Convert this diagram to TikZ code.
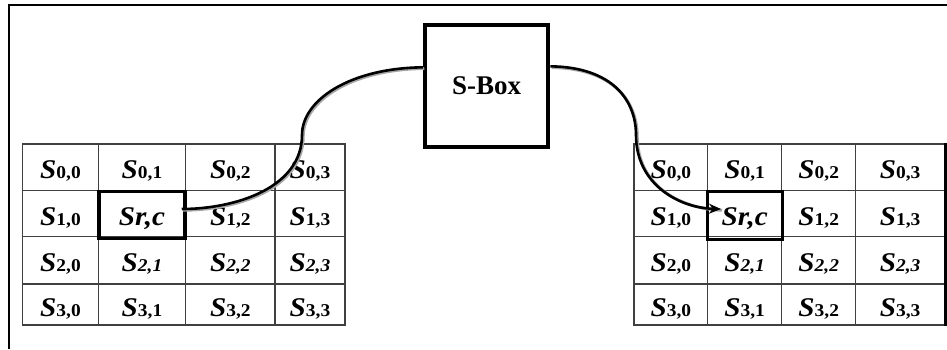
\documentclass[tikz,border=0pt]{standalone}
\usepackage{fontspec}
\setmainfont{Liberation Serif}
\newfontfamily\cellfont[FakeStretch=1.08]{Liberation Serif}
\usetikzlibrary{arrows.meta,calc}

% state-cell labels: a large bold italic S with a smaller index pair
\newcommand{\bigS}[1]{{\cellfont\fontsize{27}{27}\selectfont\bfseries\itshape #1}}
\newcommand{\smallsub}[1]{{\cellfont\fontsize{18}{18}\selectfont\bfseries #1}}
\newcommand{\celltext}[2]{%
  \ifnum#1#2=11 \bigS{Sr,c}%
  \else\ifnum#1#2>20 \ifnum#1=2 \bigS{S}\smallsub{\itshape #1,#2}%
    \else \bigS{S}\smallsub{#1,#2}\fi
  \else \bigS{S}\smallsub{#1,#2}\fi\fi}

\tikzset{
  cell/.style={draw=black!75, line width=1.3pt, inner sep=0pt,
               text height=23pt, text depth=0pt},
  hilite/.style={draw=black, line width=3.5pt, inner sep=0pt},
  sboxstyle/.style={draw=black, line width=4pt, inner sep=0pt,
                    font=\fontsize{27}{27}\selectfont\bfseries},
  flow/.style={line width=2.6pt, black},
  flowshade/.style={line width=3pt, black!35, transform canvas={shift={(1.2pt,-1.2pt)}}}
}

\begin{document}
\begin{tikzpicture}[x=1pt, y=-1pt]
\useasboundingbox (0,0) rectangle (947,349);

% outer frame (top and left edges)
\draw[line width=2pt] (8.5,349) -- (8.5,5) -- (947,5);

% input state array
\foreach \r/\ya/\yb in {0/144/190.7, 1/190.7/236.7, 2/236.7/284, 3/284/325}{
  \foreach \c/\xa/\xb in {0/22.7/98.3, 1/98.3/185.7, 2/185.7/275, 3/275/345}{
    \node[cell, minimum width={(\xb-\xa)*1pt}, minimum height={(\yb-\ya)*1pt}]
      (L-\r-\c) at ({(\xa+\xb)/2},{(\ya+\yb)/2}) {\celltext{\r}{\c}};
  }
}

% output state array
\foreach \r/\ya/\yb in {0/144/190.7, 1/190.7/236.7, 2/236.7/284, 3/284/325}{
  \foreach \c/\xa/\xb in {0/634/707.7, 1/707.7/781.7, 2/781.7/855.7, 3/855.7/944.5}{
    \node[cell, minimum width={(\xb-\xa)*1pt}, minimum height={(\yb-\ya)*1pt}]
      (R-\r-\c) at ({(\xa+\xb)/2},{(\ya+\yb)/2}) {\celltext{\r}{\c}};
  }
}
\draw[line width=3pt] (R-0-3.north east) -- (R-3-3.south east);

% highlighted byte in each array
\node[hilite, minimum width=86pt, minimum height=46.6pt] (hl-left) at (142,215) {};
\node[hilite, minimum width=74.6pt, minimum height=47.6pt] (hl-right) at (745,215.5) {};

% substitution box
\node[sboxstyle, minimum width=123.3pt, minimum height=121.7pt] (sbox) at (486.7,85.8) {S-Box};

% named ends of the two connectors
\coordinate (sbin)  at ($(sbox.north west)!0.353!(sbox.south west)$);
\coordinate (sbout) at ($(sbox.north east)!0.345!(sbox.south east)$);
\coordinate (srcL)  at ([xshift=-5pt, yshift=6pt]hl-left.east);
\coordinate (dstR)  at ([xshift=15pt, yshift=6.5pt]hl-right.west);

% soft shading under the curves
\draw[flowshade] (sbin) .. controls (350,68) and (302,100) .. (302,135)
                 .. controls (302,188) and (235,209) .. (srcL);
\draw[flowshade] (sbout) .. controls (612,67) and (636,100) .. (636,135)
                 .. controls (636,185) and (680,208) .. (dstR);

% byte taken from the input array into the S-box
\draw[flow] (sbin) .. controls (350,68) and (302,100) .. (302,135)
            .. controls (302,188) and (235,209) .. (srcL);
% substituted byte written into the output array
\draw[flow, -{Stealth[length=12pt, width=10pt]}] (sbout) .. controls (612,67) and (636,100) .. (636,135)
            .. controls (636,185) and (680,208) .. (dstR);
\end{tikzpicture}
\end{document}
